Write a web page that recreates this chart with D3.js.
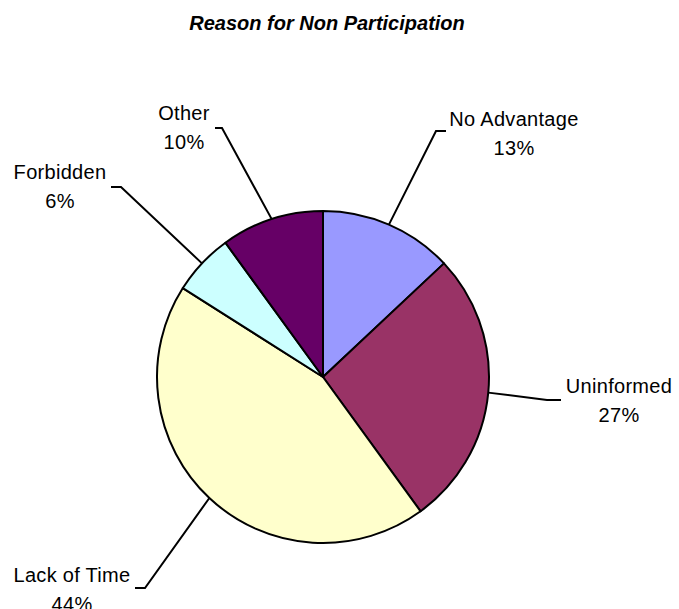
<!DOCTYPE html>
<html>
<head>
<meta charset="utf-8">
<script src="https://cdn.jsdelivr.net/npm/d3@7"></script>
<style>
  body { margin: 0; background: #fff; }
  svg text { font-family: "Liberation Sans", Arial, sans-serif; }
</style>
</head>
<body>
<svg id="chart" width="679" height="609"></svg>
<script>
// data
var categories = ["No Advantage", "Uninformed", "Lack of Time", "Forbidden", "Other"];
var percents = [13, 27, 44, 6, 10];
var colors = ["#9999FF", "#993366", "#FFFFCC", "#CCFFFF", "#660066"];

// where each label sits (elbow of the leader, end of the leader, text centre)
var labelLayout = {
    "No Advantage": { elbow: [436, 131], end: [446, 131], text: [514, 126] },
    "Uninformed":   { elbow: [547, 400], end: [561, 400], text: [619, 393] },
    "Lack of Time": { elbow: [145, 588], end: [135, 588], text: [72, 582] },
    "Forbidden":    { elbow: [121, 187], end: [111, 187], text: [60, 179] },
    "Other":        { elbow: [222, 128], end: [215, 128], text: [184, 120] }
};

var cx = 323, cy = 377, radius = 166;
var svg = d3.select("#chart");

svg.append("text")
    .attr("x", 327)
    .attr("y", 30)
    .attr("text-anchor", "middle")
    .style("font-size", "20px")
    .style("font-weight", "bold")
    .style("font-style", "italic")
    .text("Reason for Non Participation");

var data = categories.map(function (c, i) {
    return { name: c, value: percents[i], color: colors[i] };
});

var pie = d3.pie().sort(null).value(function (d) { return d.value; });
var arc = d3.arc().innerRadius(0).outerRadius(radius);
var edge = d3.arc().innerRadius(radius).outerRadius(radius);

var g = svg.append("g").attr("transform", "translate(" + cx + "," + cy + ")");
var arcs = pie(data);

g.selectAll("path.slice")
    .data(arcs)
    .enter()
    .append("path")
    .attr("class", "slice")
    .attr("d", arc)
    .attr("fill", function (d) { return d.data.color; })
    .attr("stroke", "#000")
    .attr("stroke-width", 2)
    .attr("stroke-linejoin", "round");

// leader lines
svg.selectAll("polyline.leader")
    .data(arcs)
    .enter()
    .append("polyline")
    .attr("class", "leader")
    .attr("fill", "none")
    .attr("stroke", "#000")
    .attr("stroke-width", 2)
    .attr("points", function (d) {
        var p = edge.centroid(d);
        var lay = labelLayout[d.data.name];
        return [[p[0] + cx, p[1] + cy], lay.elbow, lay.end].join(" ");
    });

// labels
var labels = svg.selectAll("text.label")
    .data(arcs)
    .enter()
    .append("text")
    .attr("class", "label")
    .attr("text-anchor", "middle")
    .style("font-size", "20px")
    .style("letter-spacing", "0.3px")
    .attr("fill", "#000");

labels.append("tspan")
    .attr("x", function (d) { return labelLayout[d.data.name].text[0]; })
    .attr("y", function (d) { return labelLayout[d.data.name].text[1]; })
    .text(function (d) { return d.data.name; });

labels.append("tspan")
    .attr("x", function (d) { return labelLayout[d.data.name].text[0]; })
    .attr("y", function (d) { return labelLayout[d.data.name].text[1] + 29; })
    .text(function (d) { return d.data.value + "%"; });
</script>
</body>
</html>
